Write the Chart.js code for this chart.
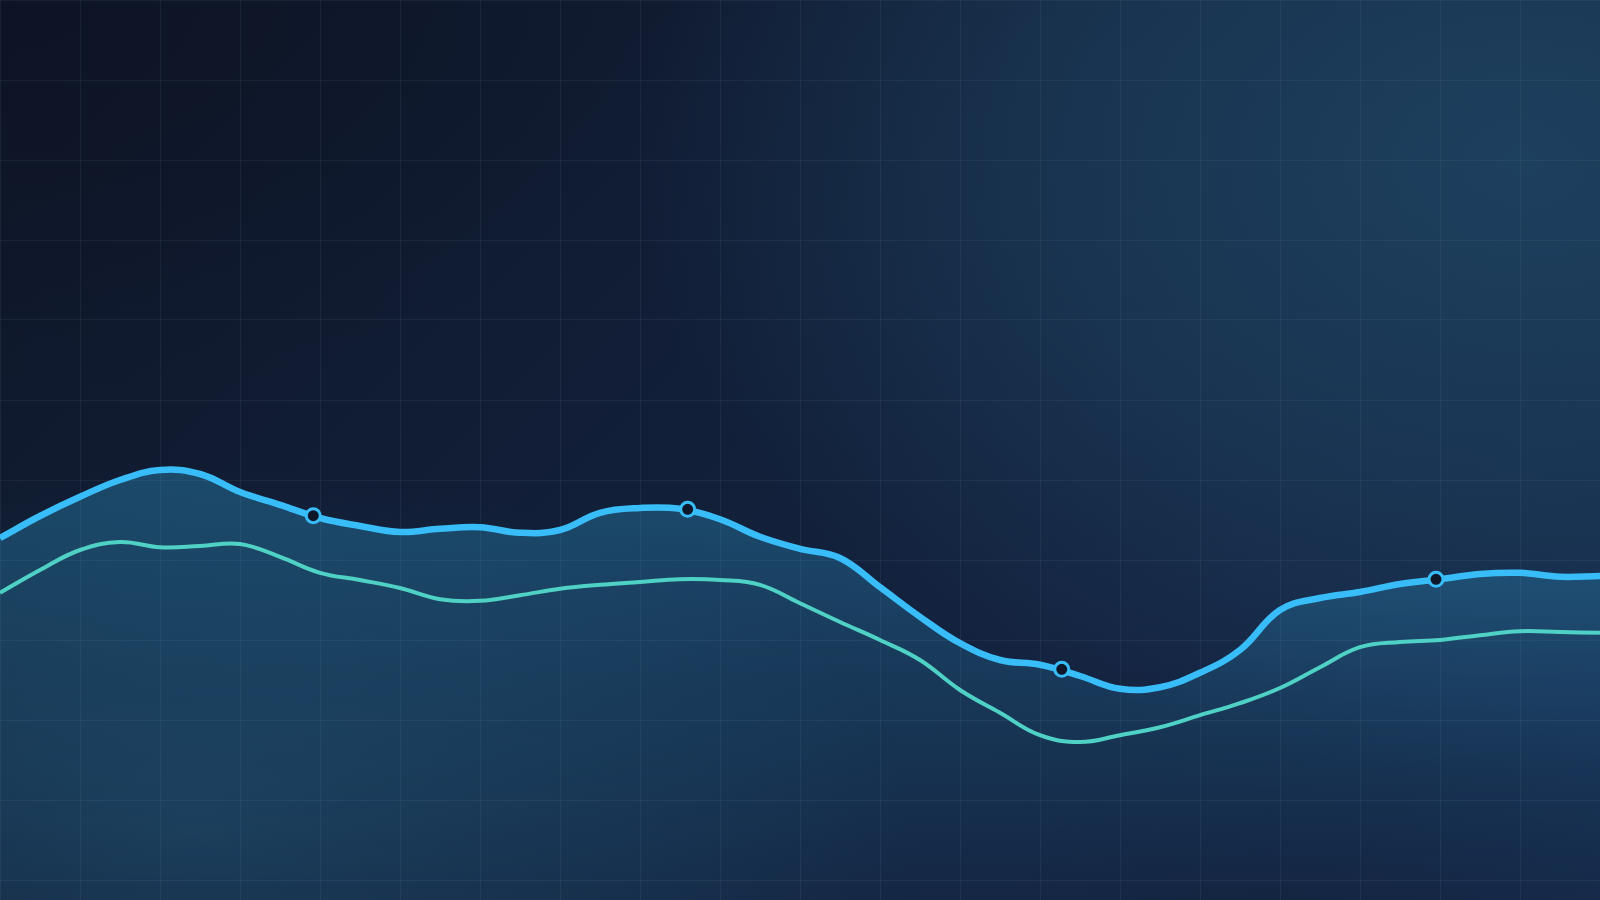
<!DOCTYPE html>
<html>
<head>
<meta charset="utf-8">
<title>Trend</title>
<script src="https://cdn.jsdelivr.net/npm/chart.js@4/dist/chart.umd.min.js"></script>
<style>
    html, body {
        margin: 0;
        padding: 0;
        width: 1600px;
        height: 900px;
        overflow: hidden;
    }
    body {
        background:
            radial-gradient(ellipse 45% 45% at 0% 0%, rgba(13, 19, 36, 0.8), rgba(13, 19, 36, 0)),
            radial-gradient(ellipse 65% 80% at 95% 18%, rgba(29, 64, 94, 1) 0%, rgba(29, 64, 94, 0.6) 45%, rgba(29, 64, 94, 0) 85%),
            radial-gradient(ellipse 45% 40% at 12% 92%, rgba(32, 72, 102, 0.55), rgba(32, 72, 102, 0)),
            radial-gradient(ellipse 40% 30% at 80% 100%, rgba(16, 24, 46, 0.5), rgba(16, 24, 46, 0)),
            linear-gradient(135deg, #0f1729 0%, #12203a 50%, #16284a 100%);
    }
    #wrap {
        position: absolute;
        left: 0;
        top: 0;
        width: 1600px;
        height: 900px;
    }
</style>
</head>
<body>
<div id="wrap"><canvas id="trend-chart"></canvas></div>
<script>
// timeline positions (0 - 100) shared by both series
const positions = [0, 2.5, 5, 7.5, 10, 12.5, 15, 17.5, 20, 22.5,
    25, 27.5, 30, 32.5, 35, 37.5, 40, 42.5, 45, 47.5,
    50, 52.5, 55, 57.5, 60, 62.5, 65, 67.5, 70, 72.5,
    75, 77.5, 80, 82.5, 85, 87.5, 90, 92.5, 95, 97.5, 100];

const upperSeries = [42.75, 45.5, 47.9, 50, 51.25, 50.75, 48.5, 46.9, 45.25, 44.25,
    43.5, 43.9, 44.1, 43.4, 43.75, 45.9, 46.5, 46.4, 45.1, 42.9,
    41.4, 40.25, 36.6, 32.9, 29.6, 27.5, 26.9, 25.5, 23.9, 24.1,
    25.9, 28.75, 33.75, 35.25, 36, 37, 37.6, 38.25, 38.4, 37.9, 38];

const lowerSeries = [35.9, 38.75, 41.25, 42.25, 41.6, 41.75, 42, 40.4, 38.4, 37.5,
    36.5, 35.1, 34.9, 35.6, 36.4, 36.9, 37.25, 37.6, 37.5, 36.9,
    34.6, 32.25, 30, 27.5, 23.75, 20.9, 18.1, 17.25, 18.1, 19.1,
    20.6, 22.1, 24, 26.6, 29.1, 29.75, 30, 30.6, 31.1, 31, 30.9];

// highlighted points on the upper series
const markerX = [19.58, 42.98, 66.36, 89.75];
const markerY = [45.54, 46.34, 26.34, 37.59];

const toPoints = (xs, ys) => xs.map((x, i) => ({ x: x, y: ys[i] }));

function upperFill(context) {
    const chart = context.chart;
    const area = chart.chartArea;
    if (!area) return 'rgba(56, 189, 248, 0.2)';
    const g = chart.ctx.createLinearGradient(0, area.top + area.height * 0.5, 0, area.bottom);
    g.addColorStop(0, 'rgba(56, 189, 248, 0.3)');
    g.addColorStop(0.5, 'rgba(56, 189, 248, 0.15)');
    g.addColorStop(1, 'rgba(56, 189, 248, 0.04)');
    return g;
}

const ctx = document.getElementById('trend-chart').getContext('2d');
const trendChart = new Chart(ctx, {
    type: 'line',
    data: {
        datasets: [{
            label: 'Markers',
            data: toPoints(markerX, markerY),
            showLine: false,
            pointRadius: 7,
            pointBorderWidth: 3,
            pointBackgroundColor: '#0f172a',
            pointBorderColor: '#38bdf8',
            order: 0
        }, {
            label: 'Lower',
            data: toPoints(positions, lowerSeries),
            borderColor: '#4fd1c5',
            borderWidth: 4,
            fill: false,
            tension: 0.4,
            pointRadius: 0,
            order: 1
        }, {
            label: 'Upper',
            data: toPoints(positions, upperSeries),
            borderColor: '#38bdf8',
            borderWidth: 6.5,
            backgroundColor: upperFill,
            fill: 'start',
            tension: 0.4,
            pointRadius: 0,
            order: 2
        }]
    },
    options: {
        responsive: true,
        maintainAspectRatio: false,
        animation: false,
        layout: { padding: 0, autoPadding: false },
        plugins: {
            legend: { display: false },
            tooltip: { enabled: false }
        },
        scales: {
            x: {
                type: 'linear',
                min: 0,
                max: 100,
                border: { display: false },
                grid: { color: 'rgba(148, 163, 184, 0.09)', drawTicks: false },
                ticks: { display: false, stepSize: 5, padding: 0 }
            },
            y: {
                min: -2.5,
                max: 110,
                border: { display: false },
                grid: { color: 'rgba(148, 163, 184, 0.09)', drawTicks: false },
                ticks: { display: false, stepSize: 10, padding: 0 }
            }
        }
    }
});
</script>
</body>
</html>
